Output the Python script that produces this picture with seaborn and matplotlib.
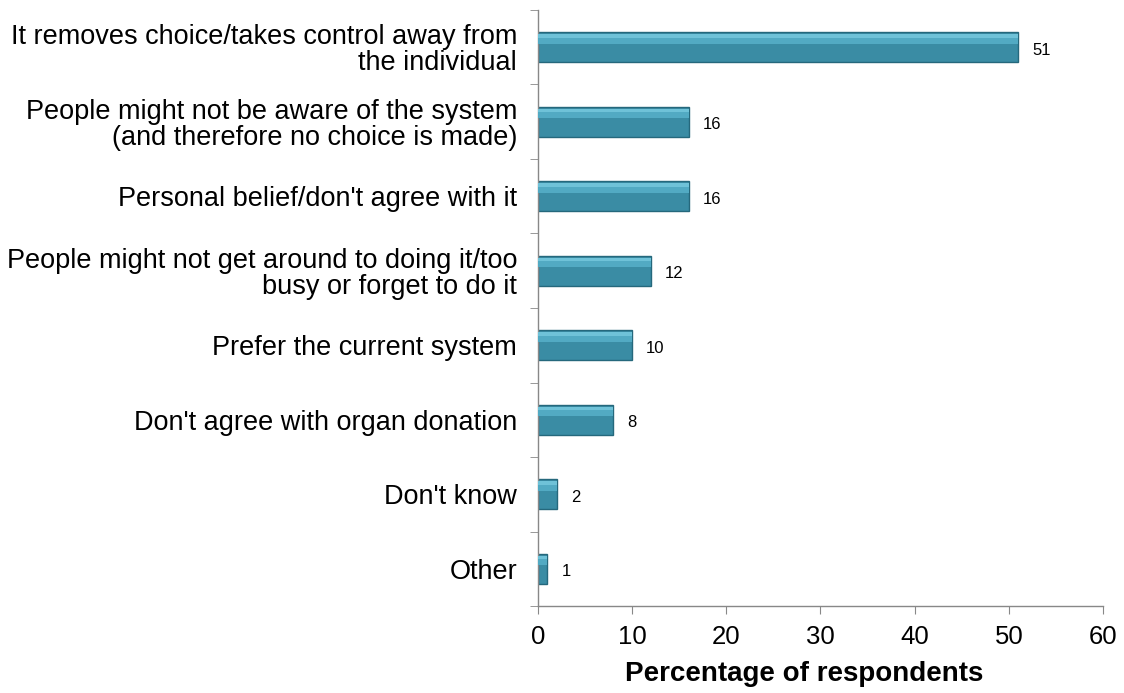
import matplotlib
matplotlib.use('Agg')
import matplotlib.pyplot as plt
import seaborn as sns
import numpy as np
import pandas as pd

# Reasons given against an opt-out system (percentage of respondents)
categories = [
    "It removes choice/takes control away from\nthe individual",
    "People might not be aware of the system\n(and therefore no choice is made)",
    "Personal belief/don't agree with it",
    "People might not get around to doing it/too\nbusy or forget to do it",
    "Prefer the current system",
    "Don't agree with organ donation",
    "Don't know",
    "Other",
]
values = [51, 16, 16, 12, 10, 8, 2, 1]
x_ticks = [0, 10, 20, 30, 40, 50, 60]

df = pd.DataFrame({"reason": categories, "pct": values})

sns.set_style("white")
plt.rcParams['font.family'] = ['Liberation Sans', 'DejaVu Sans']
plt.rcParams['text.color'] = 'black'
plt.rcParams['axes.labelcolor'] = 'black'
plt.rcParams['xtick.color'] = 'black'
plt.rcParams['ytick.color'] = 'black'

fig = plt.figure(figsize=(11.24, 6.93), dpi=100)
ax = fig.add_axes([0.4786, 0.1255, 0.5027, 0.8601])

sns.barplot(data=df, y="reason", x="pct", orient="h", color="#3a8ca4",
            width=0.4, edgecolor="#25687c", linewidth=1.0, saturation=1, ax=ax)

# soft lighter band on the upper part of each bar (glossy look)
for i, v in enumerate(values):
    ax.barh(i - 0.11, v, height=0.12, color="#52aac3", linewidth=0, zorder=3)
    ax.barh(i - 0.15, v, height=0.05, color="#6fc2d8", linewidth=0, zorder=3)
    ax.text(v + 1.5, i + 0.04, str(v), va="center", ha="left", fontsize=12)

ax.set_xlim(0, 60)
ax.set_ylim(len(categories) - 0.5, -0.5)
ax.set_xticks(x_ticks)
ax.tick_params(axis="x", labelsize=18.5, length=6, color="#888888", direction="out",
               bottom=True, pad=8)
ax.set_yticks(range(len(categories)))
ax.set_yticklabels(categories, fontsize=19.5, linespacing=1.0)
ax.tick_params(axis="y", which="major", length=0, pad=15)
ax.set_yticks(np.arange(-0.5, len(categories) + 0.5, 1), minor=True)
ax.tick_params(axis="y", which="minor", length=6, color="#888888", direction="out", left=True)
for lbl in ax.get_yticklabels():
    lbl.set_horizontalalignment("right")

ax.set_xlabel("Percentage of respondents", fontsize=20, fontweight="bold",
              labelpad=8, x=0.471)
ax.set_ylabel("")

for side in ["top", "right"]:
    ax.spines[side].set_visible(False)
for side in ["left", "bottom"]:
    ax.spines[side].set_color("#888888")
    ax.spines[side].set_linewidth(1.0)

fig.savefig("out.png", dpi=100)
